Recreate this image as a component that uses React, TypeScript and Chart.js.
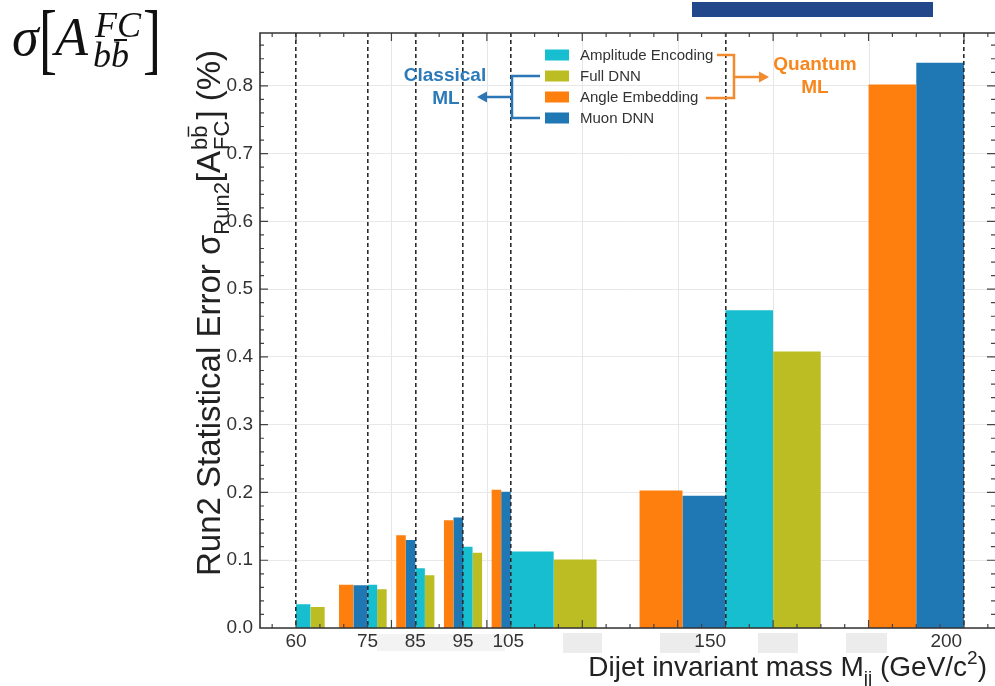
import React, { useEffect, useRef } from 'react';
import { Chart, registerables } from 'chart.js';

Chart.register(...registerables);

// ---- data ----
const binEdges = [60, 75, 85, 95, 105, 150, 200];
const xTickLabels = ['60', '75', '85', '95', '105', '150', '200'];
const xTickPositions = [60, 75, 85, 95, 104.5, 146.8, 196.3];
const yTickValues = [0, 0.1, 0.2, 0.3, 0.4, 0.5, 0.6, 0.7, 0.8];
const seriesNames = ['Amplitude Encoding', 'Full DNN', 'Angle Embedding', 'Muon DNN'];
const amplitudeEncoding = [0.035, 0.064, 0.088, 0.12, 0.113, 0.469];
const fullDNN = [0.031, 0.057, 0.078, 0.111, 0.101, 0.408];
const angleEmbedding = [0.064, 0.137, 0.159, 0.204, 0.203, 0.802];
const muonDNN = [0.063, 0.13, 0.163, 0.201, 0.195, 0.834];

// ---- layout / style ----
const seriesValues = [amplitudeEncoding, fullDNN, angleEmbedding, muonDNN];
const seriesColors = ['#17becf', '#bcbd22', '#ff7f0e', '#1f77b4'];
const slotInBin = [0, 1, 3, 4];
const slotsPerBin = 5;
const faintGridX = [80, 100, 120, 140, 160, 180];
const X_MIN = 52.45, X_MAX = 206.5, Y_MAX = 0.878;
const SANS = '"Liberation Sans", Arial, Helvetica, sans-serif';

function outline(values: number[], slot: number) {
  const pts: { x: number; y: number }[] = [];
  values.forEach((v, i) => {
    const w = (binEdges[i + 1] - binEdges[i]) / slotsPerBin;
    const x0 = binEdges[i] + slot * w;
    const x1 = x0 + w;
    pts.push({ x: x0, y: 0 }, { x: x0, y: v }, { x: x1, y: v }, { x: x1, y: 0 });
  });
  return pts;
}

function drawYTitle(ctx: CanvasRenderingContext2D, cx: number, cy: number) {
  const S = 33, s = 22;
  const F = (n: number) => `${n}px ${SANS}`;
  ctx.save();
  ctx.translate(cx, cy);
  ctx.rotate(-Math.PI / 2);
  ctx.fillStyle = '#222';
  ctx.textAlign = 'left';
  ctx.textBaseline = 'alphabetic';
  const p1 = 'Run2 Statistical Error σ', p2 = 'Run2', p3 = '[A', sup = 'bb', sub = 'FC', p5 = '] (%)';
  ctx.font = F(S);
  const w1 = ctx.measureText(p1).width, w3 = ctx.measureText(p3).width, w5 = ctx.measureText(p5).width;
  ctx.font = F(s);
  const w2 = ctx.measureText(p2).width, wsup = ctx.measureText(sup).width, wsub = ctx.measureText(sub).width, wb = ctx.measureText('b').width;
  const stackW = Math.max(wsup, wsub);
  const total = w1 + w2 + w3 + stackW + w5 + 2;
  let x = -total / 2;
  ctx.font = F(S); ctx.fillText(p1, x, 0); x += w1;
  ctx.font = F(s); ctx.fillText(p2, x, 0.26 * S); x += w2;
  ctx.font = F(S); ctx.fillText(p3, x, 0); x += w3 + 1;
  ctx.font = F(s);
  ctx.fillText(sup, x, -0.4 * S);
  ctx.fillText(sub, x, 0.26 * S);
  ctx.fillRect(x + wb + 1, -0.4 * S - 0.8 * s - 1.5, wb - 2, 1.5);
  x += stackW + 1;
  ctx.font = F(S); ctx.fillText(p5, x, 0);
  ctx.restore();
}

function drawXTitle(ctx: CanvasRenderingContext2D, rightX: number, baseY: number) {
  const S = 28, s = 19;
  const parts: [string, number, number][] = [
    ['Dijet invariant mass M', S, 0],
    ['jj', s, 0.28 * S],
    [' (GeV/c', S, 0],
    ['2', s, -0.42 * S],
    [')', S, 0],
  ];
  ctx.save();
  ctx.fillStyle = '#222';
  ctx.textAlign = 'left';
  ctx.textBaseline = 'alphabetic';
  let total = 0;
  const ws = parts.map(([t, sz]) => { ctx.font = `${sz}px ${SANS}`; const w = ctx.measureText(t).width; total += w; return w; });
  let x = rightX - total;
  parts.forEach(([t, sz, dy], i) => { ctx.font = `${sz}px ${SANS}`; ctx.fillText(t, x, baseY + dy); x += ws[i]; });
  ctx.restore();
}

function arrowHead(ctx: CanvasRenderingContext2D, tipX: number, tipY: number, dir: number) {
  ctx.beginPath();
  ctx.moveTo(tipX, tipY);
  ctx.lineTo(tipX - dir * 10, tipY - 5.5);
  ctx.lineTo(tipX - dir * 10, tipY + 5.5);
  ctx.closePath();
  ctx.fill();
}

const decorPlugin = {
  id: 'decor',
  beforeDatasetsDraw(chart: any) {
    const { ctx, chartArea: ca, scales } = chart;
    const x = scales.x;
    ctx.save();
    ctx.strokeStyle = '#e6e6e6';
    ctx.lineWidth = 1;
    faintGridX.forEach((v) => {
      const px = Math.round(x.getPixelForValue(v)) + 0.5;
      ctx.beginPath(); ctx.moveTo(px, ca.top); ctx.lineTo(px, ca.bottom); ctx.stroke();
    });
    ctx.restore();
  },
  afterDraw(chart: any) {
    const { ctx, chartArea: ca, scales } = chart;
    const x = scales.x, y = scales.y;
    ctx.save();
    // inward ticks
    ctx.strokeStyle = '#444';
    ctx.lineWidth = 1.2;
    for (let v = 55; v <= 205; v += 5) {
      const px = x.getPixelForValue(v);
      const len = v % 20 === 0 ? 8 : 4;
      ctx.beginPath();
      ctx.moveTo(px, ca.bottom); ctx.lineTo(px, ca.bottom - len);
      ctx.moveTo(px, ca.top); ctx.lineTo(px, ca.top + len);
      ctx.stroke();
    }
    for (let i = 1; i <= 43; i++) {
      const py = y.getPixelForValue(i * 0.02);
      const len = i % 5 === 0 ? 8 : 4;
      ctx.beginPath();
      ctx.moveTo(ca.left, py); ctx.lineTo(ca.left + len, py);
      ctx.moveTo(ca.right, py); ctx.lineTo(ca.right - len, py);
      ctx.stroke();
    }
    // frame
    ctx.strokeStyle = '#333';
    ctx.lineWidth = 1.6;
    ctx.beginPath();
    ctx.moveTo(ca.right, ca.top); ctx.lineTo(ca.left, ca.top); ctx.lineTo(ca.left, ca.bottom); ctx.lineTo(ca.right, ca.bottom);
    ctx.stroke();

    // legend
    const rows = [55, 76, 97, 118];
    ctx.font = `15px ${SANS}`;
    ctx.textBaseline = 'middle';
    ctx.textAlign = 'left';
    chart.data.datasets.forEach((ds: any, i: number) => {
      ctx.fillStyle = ds.backgroundColor;
      ctx.fillRect(545, rows[i] - 5.5, 24, 11);
      ctx.fillStyle = '#333';
      ctx.fillText(ds.label, 580, rows[i] + 1);
    });

    // Classical ML bracket
    const blue = '#2b76b4';
    ctx.strokeStyle = blue; ctx.fillStyle = blue; ctx.lineWidth = 2.5;
    ctx.beginPath();
    ctx.moveTo(540, 76); ctx.lineTo(512, 76); ctx.lineTo(512, 118); ctx.lineTo(540, 118);
    ctx.moveTo(512, 97); ctx.lineTo(486, 97);
    ctx.stroke();
    arrowHead(ctx, 477, 97, -1);
    ctx.fillStyle = '#2b7bba';
    ctx.font = `bold 19px ${SANS}`;
    ctx.textAlign = 'center';
    ctx.fillText('Classical', 445, 76);
    ctx.fillText('ML', 446, 99);

    // Quantum ML bracket
    const orange = '#f28a2e';
    ctx.strokeStyle = orange; ctx.fillStyle = orange; ctx.lineWidth = 2.5;
    ctx.beginPath();
    ctx.moveTo(717, 55); ctx.lineTo(734, 55); ctx.lineTo(734, 98); ctx.lineTo(706, 98);
    ctx.moveTo(734, 77); ctx.lineTo(760, 77);
    ctx.stroke();
    arrowHead(ctx, 769, 77, 1);
    ctx.fillStyle = '#f7861c';
    ctx.font = `bold 19px ${SANS}`;
    ctx.fillText('Quantum', 815, 65);
    ctx.fillText('ML', 815, 88);

    // axis titles
    drawYTitle(ctx, 220, 313);
    drawXTitle(ctx, 987, 676);
    ctx.restore();
  },
};

const maskBoxes = [
  { x: 377, y: 634, w: 128, h: 17, c: '#f3f3f3' },
  { x: 563, y: 633, w: 39, h: 20, c: '#ececec' },
  { x: 660, y: 633, w: 40, h: 20, c: '#ececec' },
  { x: 758, y: 633, w: 40, h: 20, c: '#ececec' },
  { x: 846, y: 633, w: 41, h: 20, c: '#ececec' },
];

const mathFont = '"Liberation Serif", "DejaVu Serif", "Times New Roman", serif';

function MathPiece(props: { left: number; base: number; size: number; italic?: boolean; scaleY?: number; children: React.ReactNode }) {
  const { left, base, size, italic, scaleY, children } = props;
  const top = base - 0.8375 * size;
  return (
    <div
      style={{
        position: 'absolute',
        left,
        top,
        fontFamily: mathFont,
        fontSize: size,
        lineHeight: `${size}px`,
        fontStyle: italic ? 'italic' : 'normal',
        whiteSpace: 'nowrap',
        color: '#111',
        zIndex: 2,
        transform: scaleY ? `scaleY(${scaleY})` : undefined,
        transformOrigin: `50% ${0.8375 * size - 0.23 * size}px`,
      }}
    >
      {children}
    </div>
  );
}

export default function App() {
  const ref = useRef<HTMLCanvasElement>(null);
  useEffect(() => {
    const datasets = seriesNames.map((name, k) => ({
      label: name,
      data: outline(seriesValues[k], slotInBin[k]),
      backgroundColor: seriesColors[k],
      borderColor: 'rgba(0,0,0,0)',
      borderWidth: 0,
      pointRadius: 0,
      fill: 'origin',
      tension: 0,
    }));
    const chart = new Chart(ref.current as HTMLCanvasElement, {
      type: 'line',
      data: { datasets } as any,
      options: {
        responsive: false,
        animation: false,
        events: [],
        layout: { padding: { top: 33, right: 0, bottom: 0, left: 0 } },
        plugins: { legend: { display: false }, tooltip: { enabled: false }, title: { display: false } },
        scales: {
          x: {
            type: 'linear',
            position: 'bottom',
            weight: 0,
            min: X_MIN,
            max: X_MAX,
            afterBuildTicks: (ax: any) => { ax.ticks = xTickPositions.map((v) => ({ value: v })); },
            afterFit: (ax: any) => { ax.height = 58; },
            ticks: {
              autoSkip: false,
              maxRotation: 0,
              padding: 2,
              color: '#333',
              font: { family: SANS, size: 19 },
              callback: (_v: any, i: number) => xTickLabels[i],
            },
            grid: { display: false, drawTicks: false },
            border: { display: false },
          },
          xEdges: {
            type: 'linear',
            position: 'bottom',
            weight: 1,
            min: X_MIN,
            max: X_MAX,
            afterBuildTicks: (ax: any) => { ax.ticks = binEdges.map((v) => ({ value: v })); },
            afterFit: (ax: any) => { ax.height = 0; },
            ticks: { display: false },
            grid: { color: '#2b2b2b', lineWidth: 1.6, drawTicks: false, z: 1 },
            border: { display: false, dash: [4, 3] },
          },
          y: {
            type: 'linear',
            min: 0,
            max: Y_MAX,
            afterBuildTicks: (ax: any) => { ax.ticks = yTickValues.map((v) => ({ value: v })); },
            afterFit: (ax: any) => { ax.width = 260; },
            ticks: {
              padding: 7,
              color: '#333',
              font: { family: SANS, size: 19 },
              callback: (v: any) => Number(v).toFixed(1),
            },
            grid: { color: '#e8e8e8', lineWidth: 1, drawTicks: false },
            border: { display: false },
          },
        },
      } as any,
      plugins: [decorPlugin],
    });
    return () => chart.destroy();
  }, []);

  return (
    <div style={{ position: 'absolute', left: 0, top: 0, width: 995, height: 686, overflow: 'hidden', background: '#fff' }}>
      {maskBoxes.map((b, i) => (
        <div key={i} style={{ position: 'absolute', left: b.x, top: b.y, width: b.w, height: b.h, background: b.c }} />
      ))}
      <canvas ref={ref} width={995} height={686} style={{ position: 'absolute', left: 0, top: 0, width: 995, height: 686, zIndex: 1 }} />
      <div style={{ position: 'absolute', left: 692, top: 2, width: 241, height: 15, background: '#22478b', zIndex: 2 }} />
      <MathPiece left={12} base={55} size={54} italic>σ</MathPiece>
      <MathPiece left={39} base={60} size={54} scaleY={1.45}>[</MathPiece>
      <MathPiece left={55} base={55} size={54} italic>A</MathPiece>
      <MathPiece left={95} base={37} size={36} italic>FC</MathPiece>
      <MathPiece left={93} base={67} size={36} italic>bb</MathPiece>
      <div style={{ position: 'absolute', left: 114, top: 39, width: 13, height: 2, background: '#111', zIndex: 2 }} />
      <MathPiece left={143} base={60} size={54} scaleY={1.45}>]</MathPiece>
    </div>
  );
}
